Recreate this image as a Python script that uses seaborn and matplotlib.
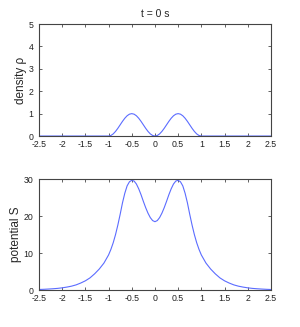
import pandas as pd
import numpy as np
import matplotlib
matplotlib.use('Agg')
import matplotlib.pyplot as plt
import seaborn as sns

# x positions (denser near the bumps)
x_vals = [-2.5, -2.4, -2.3, -2.2, -2.1, -2.0, -1.9, -1.8, -1.7, -1.6, -1.5,
          -1.4, -1.3, -1.2, -1.1, -1.0, -0.95, -0.9, -0.85, -0.8, -0.75,
          -0.7, -0.65, -0.6, -0.55, -0.5, -0.45, -0.4, -0.35, -0.3, -0.25,
          -0.2, -0.15, -0.1, -0.05, 0.0, 0.05, 0.1, 0.15, 0.2, 0.25, 0.3,
          0.35, 0.4, 0.45, 0.5, 0.55, 0.6, 0.65, 0.7, 0.75, 0.8, 0.85, 0.9,
          0.95, 1.0, 1.1, 1.2, 1.3, 1.4, 1.5, 1.6, 1.7, 1.8, 1.9, 2.0, 2.1,
          2.2, 2.3, 2.4, 2.5]

# density rho
density = [0, 0, 0, 0, 0, 0, 0, 0, 0, 0, 0,
           0, 0, 0, 0, 0, 0.024, 0.095, 0.206, 0.345, 0.5,
           0.655, 0.794, 0.905, 0.976, 1.0, 0.976, 0.905, 0.794, 0.655, 0.5,
           0.345, 0.206, 0.095, 0.024, 0, 0.024, 0.095, 0.206, 0.345, 0.5, 0.655,
           0.794, 0.905, 0.976, 1.0, 0.976, 0.905, 0.794, 0.655, 0.5, 0.345, 0.206, 0.095,
           0.024, 0, 0, 0, 0, 0, 0, 0, 0, 0, 0, 0, 0,
           0, 0, 0, 0]

# potential S
potential = [0.15, 0.2, 0.27, 0.35, 0.45, 0.6, 0.8, 1.05, 1.4, 1.9, 2.5,
             3.3, 4.4, 5.7, 7.3, 9.5, 11.0, 12.8, 15.0, 17.6, 20.5,
             23.6, 26.2, 28.2, 29.3, 29.7, 29.5, 28.7, 27.4, 25.8, 24.0,
             22.3, 20.8, 19.6, 18.8, 18.5, 18.8, 19.6, 20.8, 22.3, 24.0, 25.8,
             27.4, 28.7, 29.5, 29.7, 29.3, 28.2, 26.2, 23.6, 20.5, 17.6, 15.0, 12.8,
             11.0, 9.5, 7.3, 5.7, 4.4, 3.3, 2.5, 1.9, 1.4, 1.05, 0.8, 0.6, 0.45,
             0.35, 0.27, 0.2, 0.15]

x_ticks = [-2.5, -2, -1.5, -1, -0.5, 0, 0.5, 1, 1.5, 2, 2.5]
x_ticklabels = ['-2.5', '-2', '-1.5', '-1', '-0.5', '0', '0.5', '1', '1.5', '2', '2.5']

df = pd.DataFrame({'x': x_vals, 'rho': density, 'S': potential})

sns.set_style('ticks')
plt.rcParams['font.family'] = ['Liberation Sans Narrow', 'Liberation Sans', 'DejaVu Sans']

line_color = '#5b6cff'
fig = plt.figure(figsize=(3.0, 3.27), dpi=100)
ax1 = fig.add_axes([0.13, 0.584, 0.773, 0.3425])
ax2 = fig.add_axes([0.13, 0.113, 0.773, 0.339])

sns.lineplot(data=df, x='x', y='rho', ax=ax1, color=line_color, linewidth=0.8)
sns.lineplot(data=df, x='x', y='S', ax=ax2, color=line_color, linewidth=0.8)

for ax in (ax1, ax2):
    ax.set_xlim(-2.5, 2.5)
    ax.set_xticks(x_ticks)
    ax.set_xticklabels(x_ticklabels)
    ax.set_xlabel('')
    ax.tick_params(direction='in', length=2.5, width=0.5, labelsize=6.3,
                   top=True, right=True, colors='#222222')
    ax.tick_params(axis='x', pad=3)
    ax.tick_params(axis='y', pad=4)
    for sp in ax.spines.values():
        sp.set_visible(True)
        sp.set_linewidth(0.8)
        sp.set_color('#444444')

ax1.set_ylim(0, 5)
ax1.set_yticks([0, 1, 2, 3, 4, 5])
ax1.set_ylabel('density \u03c1', fontsize=8.5, family=['Liberation Sans', 'DejaVu Sans'], labelpad=1)
ax1.set_title('t = 0 s', fontsize=7.5, pad=5)

ax2.set_ylim(0, 30)
ax2.set_yticks([0, 10, 20, 30])
ax2.set_ylabel('potential S', fontsize=8.5, family=['Liberation Sans', 'DejaVu Sans'], labelpad=1)

fig.savefig('out.png', dpi=100)
